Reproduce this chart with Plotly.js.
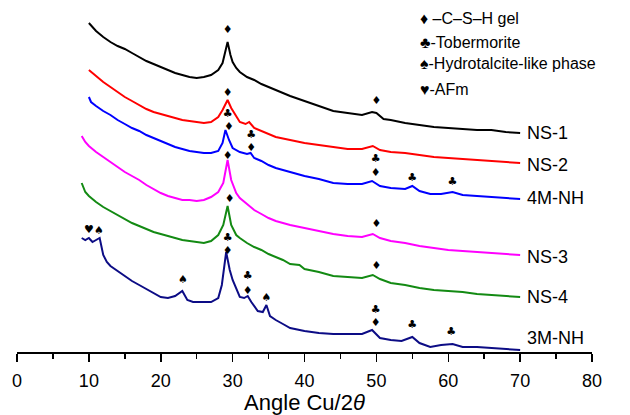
<!DOCTYPE html>
<html>
<head>
<meta charset="utf-8">
<script src="https://cdn.plot.ly/plotly-3.0.1.min.js"></script>
<style>html,body{margin:0;padding:0;background:#fff;}#chart{width:630px;height:415px;}</style>
</head>
<body>
<div id="chart"></div>
<script>
// XRD patterns (offset intensity, arbitrary units)
const ns1X = [10,11,12,13,14,15,16,17,18,19,20,21,22,23,24,25,26,27,28,28.6,29,29.3,29.7,30,30.5,31,32,33,34,35,36,38,40,42,44,46,48,49.4,50,51,52,54,56,58,60,62,64,66,68,70];
const ns1Y = [329,321,315,310,306,303,299,295,291,288,285,282,279,277,275,274,275,277,282,289,300,310,297,290,284,280,275,272,268,265,262,256,251,246,241,239,237,240,239,233,232,229,227,225,224,223,222,222,220,219];

const ns2X = [10,11,12,13,14,15,16,17,18,19,20,21,22,23,24,25,26,27,28,28.6,29.3,29.8,30.5,31,31.8,32.3,33,34,35,36,38,40,42,44,46,48,49.5,50.5,52,54,56,58,60,62,64,66,68,70];
const ns2Y = [282,276,270,265,260,255,251,247,243,240,238,236,234,232,231,230,229,230,235,242,252,244,235,230,228,230,224,221,218,215,212,209,207,205,203,203,206,202,200,199,197,195,194,193,192,191,190,189];

const m4X = [10,10.3,11,12,13,14,15,16,17,18,19,20,21,22,23,24,25,26,27,28,28.6,29,29.5,30,31,32,32.5,33,34,35,36,38,40,42,44,46,48,49.4,50.5,52,54,55,56,57.5,59,60.6,62,64,66,68,70];
const m4Y = [255,250,246,241,237,232,228,224,221,217,214,211,208,205,203,201,200,199,199,201,209,222,212,204,200,198,199,194,191,187,184,180,176,173,169,168,168,171,166,164,163,166,161,158,158,160,157,156,155,154,153];

const ns3X = [9,9.5,10,11,12,13,14,15,16,17,18,19,20,21,22,23,24,25,26,27,28,28.7,29.3,29.8,30.5,31,32,33,34,35,36,38,40,42,44,46,48,49.5,50.5,52,54,56,58,60,62,64,66,68,70];
const ns3Y = [216,210,206,200,195,190,185,180,176,172,167,163,159,156,154,152,152,151,152,155,160,169,192,172,159,154,148,142,138,134,131,127,124,121,118,116,115,118,114,111,109,106,104,102,101,100,99,98,97];

const ns4X = [9,9.5,10,11,12,13,14,15,16,17,18,19,20,21,22,23,24,25,26,27,28,28.7,29.3,29.8,30.5,31,32,33,34,35,36,37,38,39.3,40,42,44,46,48,49.5,50.5,52,54,56,58,60,62,64,66,68,70];
const ns4Y = [169,160,156,150,145,141,137,133,129,126,123,120,118,116,114,112,111,110,109,111,117,127,146,127,117,114,109,105,102,98,95,92,88,87,83,80,76,75,74,77,73,69,67,64,62,61,60,58,57,56,55];

const m3X = [9,9.5,10,10.5,11,11.5,12,12.5,13,14,15,16,17,18,19,20,21,22,23,23.7,24.5,25,26,27,28,28.5,29.1,29.6,30,31,31.6,32.1,32.6,33.5,34.2,34.7,35.2,36,37,38,40,42,44,46,48,49.4,50.5,52,53.5,55,56,57.5,59,60.6,62,64,66,68,70];
const m3Y = [114,112,114,110,112,114,97,90,86,81,76,71,67,63,59,55,54,56,61,52,50,50,50,50,54,67,100,82,72,55,54,56,50,41,40,47,36,32,28,24,21,19,18,18,18,22,14,12,11,15,9,5,7,8,5,5,4,3,2];

const seriesNames = ['NS-1','NS-2','4M-NH','NS-3','NS-4','3M-NH'];
const seriesColors = ['#000000','#ff0000','#0000ff','#ff00ff','#138a13','#0c0c85'];
const seriesX = [ns1X, ns2X, m4X, ns3X, ns4X, m3X];
const seriesY = [ns1Y, ns2Y, m4Y, ns3Y, ns4Y, m3Y];
const labelX = [70.7,70.7,70.7,70.7,70.7,70.7];
const labelY = [219,187,154,95,55,14];

// Phase markers: symbol, angle, height
const phaseSym = ['♦','♦','♦','♣','♦','♣','♦','♦','♣','♣','♣','♦','♦','♦','♦','♥','♠','♠','♣','♦','♣','♦','♠','♣','♦','♣','♣'];
const phaseX   = [29.3,50.0,29.3,29.3,29.5,32.6,32.6,49.9,49.9,55.0,60.6,29.3,50.0,29.6,50.0,10.0,11.4,23.1,29.3,29.3,32.1,32.1,34.7,49.9,49.9,55.0,60.4];
const phaseY   = [322,251,259,238,225,217,204,179,193,174,170,196,128,153,86,122,121,72,114,101,76,61,54,42,29,27,20];

const legendText = ['♦ –C–S–H gel','♣-Tobermorite','♠-Hydrotalcite-like phase','♥-AFm'];
const legendY = [334,310,289,263];

const traces = seriesNames.map((n,i)=>({
  type:'scatter', mode:'lines', name:n, x:seriesX[i], y:seriesY[i],
  line:{color:seriesColors[i], width:2}, hoverinfo:'skip'
}));
traces.push({
  type:'scatter', mode:'text', x:phaseX, y:phaseY, text:phaseSym,
  textfont:{family:'DejaVu Sans', size:11, color:'#000'}, hoverinfo:'skip'
});

const annotations = [];
seriesNames.forEach((n,i)=>annotations.push({
  x:labelX[i], y:labelY[i], xref:'x', yref:'y', text:n, showarrow:false,
  xanchor:'left', yanchor:'middle', font:{family:'Liberation Sans, Arial', size:18, color:'#000'}
}));
legendText.forEach((t,i)=>annotations.push({
  x:55.8, y:legendY[i], xref:'x', yref:'y', text:t, showarrow:false,
  xanchor:'left', yanchor:'middle', font:{family:'Liberation Sans, Arial', size:16, color:'#000'}
}));

const layout = {
  width:630, height:415,
  margin:{l:17, r:38, t:0, b:63},
  paper_bgcolor:'#fff', plot_bgcolor:'#fff',
  showlegend:false,
  xaxis:{
    range:[0,80], dtick:10, tick0:0, showgrid:false, zeroline:false,
    showline:true, linecolor:'#000', linewidth:1.5,
    ticks:'outside', ticklen:8, tickwidth:1.5, tickcolor:'#000',
    ticklabelstandoff:4,
    minor:{dtick:5, ticks:'outside', ticklen:5, tickwidth:1.5, tickcolor:'#000', showgrid:false},
    tickfont:{family:'Liberation Sans, Arial', size:18, color:'#000'},
    title:{text:'Angle Cu/2<i>θ</i>', standoff:2, font:{family:'Liberation Sans, Arial', size:22, color:'#000'}}
  },
  yaxis:{range:[0,352], visible:false, fixedrange:true},
  annotations:annotations
};

Plotly.newPlot('chart', traces, layout, {staticPlot:true, displayModeBar:false});
</script>
</body>
</html>
